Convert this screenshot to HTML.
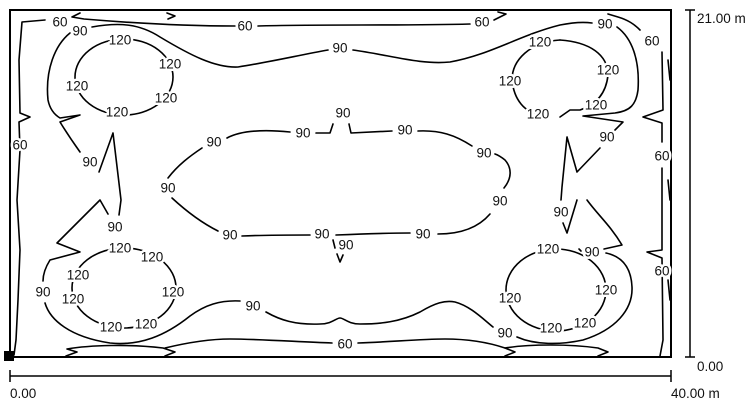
<!DOCTYPE html>
<html><head><meta charset="utf-8"><style>
html,body{margin:0;padding:0;background:#fff;}
svg{display:block;}
text{font-family:"Liberation Sans",Arial,sans-serif;font-size:13.5px;fill:#111;}
.l{text-anchor:middle;dominant-baseline:central;stroke:#fff;stroke-width:5px;paint-order:stroke;stroke-linejoin:round;}
.c{fill:none;stroke:#000;stroke-width:1.6;stroke-linejoin:round;stroke-linecap:round;}
</style></head><body>
<svg width="750" height="404" viewBox="0 0 750 404" xmlns="http://www.w3.org/2000/svg">
<rect x="10" y="10" width="661" height="347" fill="none" stroke="#000" stroke-width="2"/>
<rect x="4" y="351" width="10" height="10" fill="#000"/>
<line x1="690" y1="10" x2="690" y2="357" stroke="#000" stroke-width="1.5"/>
<line x1="685" y1="10" x2="695" y2="10" stroke="#000" stroke-width="1.5"/>
<line x1="685" y1="357" x2="695" y2="357" stroke="#000" stroke-width="1.5"/>
<line x1="10" y1="376" x2="671" y2="376" stroke="#000" stroke-width="1.5"/>
<line x1="10" y1="370" x2="10" y2="382" stroke="#000" stroke-width="1.5"/>
<line x1="671" y1="370" x2="671" y2="382" stroke="#000" stroke-width="1.5"/>
<text x="697" y="23">21.00 m</text>
<text x="697" y="371">0.00</text>
<text x="10" y="398">0.00</text>
<text x="671" y="398">40.00 m</text>

<!-- 60 contour -->
<path class="c" d="M14,355 L16,340 L18,300 L20,250 L17,200 L20,150 L19,122 L30,117 L20,113 L19,60 L22,22 L45,20"/>
<path class="c" d="M80,13 L72,17 L84,19 C120,22 180,26 235,26"/>
<path class="c" d="M258,26 C320,24 400,26 470,24"/>
<path class="c" d="M494,20 L506,14 L498,12"/>
<path class="c" d="M167,13 L175,16 L168,19"/>
<path class="c" d="M608,14 L618,17 C628,20 634,24 640,30"/>
<path class="c" d="M662,52 L663,110 L643,117 L662,123 L662,142"/>
<path class="c" d="M662,168 L662,250 L647,252 L662,258 L663,340 L660,356"/>
<path class="c" d="M668,60 L670,80 M668,180 L670,200 M668,280 L670,300"/>
<path class="c" d="M66,356 L77,352 L67,349 C90,345 130,344 163,348 L175,352 L165,356"/>
<path class="c" d="M165,348 C190,342 210,339 230,339 C260,339 300,342 332,343"/>
<path class="c" d="M358,343 C390,342 420,339 445,339 C470,339 490,343 505,348 L515,352 L505,356"/>
<path class="c" d="M505,348 C530,344 570,344 598,348 L608,352 L598,356"/>

<!-- 90 contours, left -->
<path class="c" d="M70,33 C55,45 45,70 48,100 C50,110 55,115 60,118 L80,115 L60,122 C68,135 75,145 80,152"/>
<path class="c" d="M99,172 L113,133 L121,200 L119,215"/>
<path class="c" d="M108,214 L100,200 C85,215 70,230 57,243 L80,252 L50,260 C45,268 43,275 43,281"/>
<path class="c" d="M45,303 C50,320 70,337 110,343 C140,346 165,336 190,316 C205,305 220,300 240,301"/>
<path class="c" d="M266,312 C280,320 295,325 320,324 C332,324 336,318 340,318 C344,318 348,324 360,324 C380,324 400,322 420,312 C435,303 445,300 455,302 C470,306 482,318 493,327"/>
<path class="c" d="M92,27 C120,22 140,24 160,37 C190,55 215,68 238,67 C270,62 300,55 328,50"/>
<path class="c" d="M353,50 C390,55 420,65 450,62 C490,55 520,35 560,25 C575,22 585,22 592,23"/>
<path class="c" d="M617,27 C632,38 640,60 638,90 C636,105 630,111 615,113 L583,116 L623,122 L615,130"/>
<path class="c" d="M600,148 L577,172 L567,137 L562,187 L561,200"/>
<path class="c" d="M563,223 L567,233 L577,200 M587,200 C598,215 610,225 622,245 L604,249"/>
<path class="c" d="M606,253 C620,256 631,265 632,287 C633,310 615,330 583,340 C560,345 535,345 517,337"/>
<path class="c" d="M579,249 L581,251"/>

<!-- central 90 oval -->
<path class="c" d="M202,148 C190,156 178,165 168,178"/>
<path class="c" d="M172,198 C185,210 200,222 218,231"/>
<path class="c" d="M242,236 C265,235 290,235 310,235"/>
<path class="c" d="M336,235 C360,234 385,233 410,233"/>
<path class="c" d="M438,234 C460,234 478,228 490,214"/>
<path class="c" d="M504,188 C512,178 512,168 505,160 C500,156 498,155 495,154"/>
<path class="c" d="M472,146 C455,135 440,130 418,131"/>
<path class="c" d="M392,131 L351,133 L349,124"/>
<path class="c" d="M333,124 L330,133 L316,133"/>
<path class="c" d="M290,132 C260,129 240,131 227,138"/>
<path class="c" d="M333,240 L335,248 M337,254 L340,262 L343,255"/>

<!-- 120 loops -->
<ellipse class="c" cx="124" cy="77" rx="49" ry="38"/>
<path class="c" d="M560,40 C590,42 608,55 608,75 C606,95 595,105 580,110 L570,110 L560,117"/>
<path class="c" d="M560,40 C530,42 512,60 512,80 C514,100 525,113 540,114"/>
<ellipse class="c" cx="124" cy="288" rx="52" ry="40"/>
<ellipse class="c" cx="556" cy="290" rx="50" ry="41"/>

<text class="l" x="60" y="22">60</text>
<text class="l" x="245" y="26">60</text>
<text class="l" x="482" y="22">60</text>
<text class="l" x="652" y="41">60</text>
<text class="l" x="20" y="145">60</text>
<text class="l" x="662" y="156">60</text>
<text class="l" x="662" y="271">60</text>
<text class="l" x="345" y="344">60</text>
<text class="l" x="80" y="31">90</text>
<text class="l" x="340" y="48">90</text>
<text class="l" x="605" y="24">90</text>
<text class="l" x="90" y="162">90</text>
<text class="l" x="115" y="227">90</text>
<text class="l" x="43" y="292">90</text>
<text class="l" x="253" y="306">90</text>
<text class="l" x="505" y="333">90</text>
<text class="l" x="607" y="137">90</text>
<text class="l" x="561" y="212">90</text>
<text class="l" x="592" y="252">90</text>
<text class="l" x="214" y="142">90</text>
<text class="l" x="303" y="133">90</text>
<text class="l" x="343" y="113">90</text>
<text class="l" x="405" y="130">90</text>
<text class="l" x="484" y="153">90</text>
<text class="l" x="168" y="188">90</text>
<text class="l" x="500" y="201">90</text>
<text class="l" x="230" y="235">90</text>
<text class="l" x="322" y="234">90</text>
<text class="l" x="346" y="245">90</text>
<text class="l" x="423" y="234">90</text>
<text class="l" x="120" y="40">120</text>
<text class="l" x="170" y="64">120</text>
<text class="l" x="77" y="86">120</text>
<text class="l" x="166" y="98">120</text>
<text class="l" x="117" y="112">120</text>
<text class="l" x="540" y="42">120</text>
<text class="l" x="608" y="70">120</text>
<text class="l" x="510" y="81">120</text>
<text class="l" x="596" y="105">120</text>
<text class="l" x="538" y="114">120</text>
<text class="l" x="120" y="248">120</text>
<text class="l" x="152" y="257">120</text>
<text class="l" x="78" y="275">120</text>
<text class="l" x="73" y="299">120</text>
<text class="l" x="173" y="292">120</text>
<text class="l" x="111" y="327">120</text>
<text class="l" x="146" y="324">120</text>
<text class="l" x="548" y="249">120</text>
<text class="l" x="606" y="290">120</text>
<text class="l" x="510" y="298">120</text>
<text class="l" x="551" y="328">120</text>
<text class="l" x="585" y="323">120</text>
</svg>
</body></html>
